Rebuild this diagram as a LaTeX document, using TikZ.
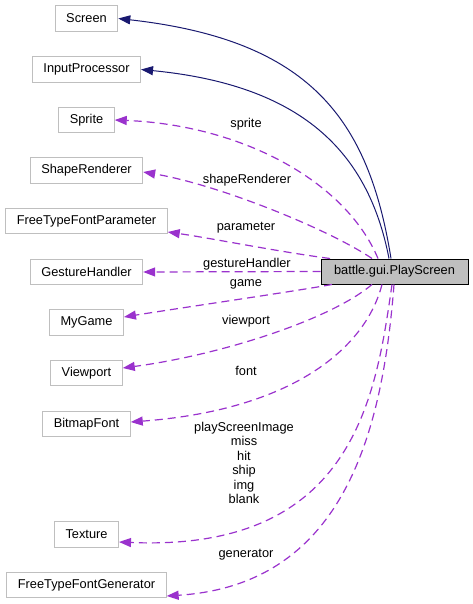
\documentclass[tikz,border=0pt]{standalone}
\usepackage{fontspec}
\setmainfont{Liberation Sans}
\usetikzlibrary{arrows.meta}
\definecolor{navyedge}{HTML}{191970}
\definecolor{orchidedge}{HTML}{9A32CD}
\definecolor{boxgray}{HTML}{BFBFBF}
\tikzset{
  cls/.style={draw=boxgray, line width=1pt, fill=white, minimum height=25.5pt, inner xsep=11pt, inner ysep=0pt, font=\fontsize{12.8}{15}\selectfont},
  mainbox/.style={draw=black, line width=1pt, fill=boxgray, minimum height=25pt, minimum width=147pt, inner ysep=0pt, font=\fontsize{12.8}{15}\selectfont},
  inherit/.style={draw=navyedge, line width=1pt, -{Triangle[length=12pt,width=9pt]}, color=navyedge},
  usage/.style={draw=orchidedge, line width=1.2pt, dash pattern=on 8pt off 5pt, -{Triangle[length=12pt,width=9pt]}, color=orchidedge},
  lbl/.style={inner sep=0pt, font=\fontsize{12.8}{14.4}\selectfont, align=center}
}
\begin{document}
\begin{tikzpicture}[x=1pt,y=-1pt]
\useasboundingbox (0,0) rectangle (473,604);
% class boxes
\node[cls] (screen) at (86.5,18.5) {Screen};
\node[cls] (input) at (86.5,69.5) {InputProcessor};
\node[cls] (sprite) at (86.5,120) {Sprite};
\node[cls] (shape) at (86.5,170.5) {ShapeRenderer};
\node[cls] (param) at (86.5,221) {FreeTypeFontParameter};
\node[cls] (gesture) at (86.5,272) {GestureHandler};
\node[cls] (mygame) at (86.5,322.5) {MyGame};
\node[cls] (viewport) at (86.5,373) {Viewport};
\node[cls] (bitmap) at (86.5,424) {BitmapFont};
\node[cls] (texture) at (86.5,534.5) {Texture};
\node[cls] (generator) at (86.5,585) {FreeTypeFontGenerator};
\node[mainbox] (ps) at (394.5,271.5) {battle.gui.PlayScreen};

% inheritance edges
\draw[inherit] ([xshift=-3.5pt]ps.north) .. controls (368.6,119) and (310,40) .. (screen.east);
\draw[inherit] ([xshift=-5.5pt]ps.north) .. controls (368,150) and (300,85) .. (input.east);

% usage edges
\draw[usage] ([xshift=-16.5pt]ps.north) .. controls (345,180) and (240,125) .. (sprite.east);
\draw[usage] ([xshift=-22.5pt]ps.north) .. controls (330,230) and (220,185) .. ([yshift=-1.5pt]shape.east);
\draw[usage] ([xshift=-64.5pt]ps.north) .. controls (280,252) and (210,238) .. ([yshift=-11pt]param.east);
\draw[usage] (ps.west) -- (gesture.east);
\draw[usage] ([xshift=-62.5pt]ps.south) .. controls (290,292) and (180,308) .. ([yshift=5.5pt]mygame.east);
\draw[usage] ([xshift=-22.5pt]ps.south) .. controls (330,320) and (220,355) .. ([yshift=5pt]viewport.east);
\draw[usage] ([xshift=-12.5pt]ps.south) .. controls (365,350) and (290,410) .. ([yshift=2pt]bitmap.east);
\draw[usage] ([xshift=-2.5pt]ps.south) .. controls (376,395) and (355,552) .. ([yshift=-7.5pt]texture.east);
\draw[usage] ([xshift=-0.5pt]ps.south) .. controls (382,440) and (340,585) .. ([yshift=-11pt]generator.east);

% edge labels
\node[lbl] (lsprite) at (246,124) {sprite};
\node[lbl] (lshape) at (247,180) {shapeRenderer};
\node[lbl] (lparam) at (246,228) {parameter};
\node[lbl] (lgesture) at (247,264) {gestureHandler};
\node[lbl] (lgame) at (246,284) {game};
\node[lbl] (lviewport) at (246,321) {viewport};
\node[lbl] (lfont) at (246,371) {font};
\node[lbl] (ltexture) at (244,463) {playScreenImage\\miss\\hit\\ship\\img\\blank};
\node[lbl] (lgenerator) at (246,555) {generator};
\end{tikzpicture}
\end{document}
